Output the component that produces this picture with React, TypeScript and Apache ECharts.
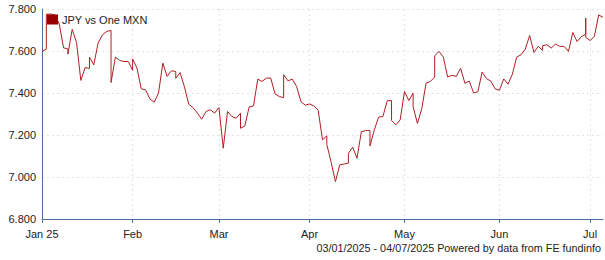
import React, { useEffect, useRef } from "react";
import * as echarts from "echarts";

// Trading-day categories (weekdays 03/01/2025 .. 04/07/2025)
const startDate = "2025-01-03";
const endDate = "2025-07-04";
const monthLabels = ["Jan 25", "Feb", "Mar", "Apr", "May", "Jun", "Jul"];
const yTicks = [6.8, 7.0, 7.2, 7.4, 7.6, 7.8];
const seriesName = "JPY vs One MXN";
const footer = "03/01/2025 - 04/07/2025 Powered by data from FE fundinfo";

// Trading-day index of each reading (a repeated index = two readings on one day)
const tradingDay = [
  0, 1, 1, 2, 3, 4, 5, 6, 6, 7, 8, 9, 10, 11, 11, 12, 13, 14, 15, 16, 16, 17, 18, 19, 20,
  21, 21, 22, 23, 24, 25, 26, 27, 28, 29, 30, 31, 31, 32, 33, 34, 35, 36, 37, 38, 39, 40,
  41, 42, 43, 44, 45, 46, 46, 47, 48, 49, 50, 51, 52, 53, 54, 55, 56, 56, 57, 58, 59, 60,
  61, 62, 63, 64, 65, 66, 66, 67, 68, 69, 70, 71, 71, 72, 73, 74, 75, 76, 76, 77, 78, 79,
  80, 81, 81, 82, 83, 84, 85, 86, 86, 87, 88, 89, 90, 91, 91, 92, 93, 94, 95, 96, 97, 98,
  99, 100, 101, 102, 103, 104, 105, 106, 107, 108, 109, 110, 111, 112, 113, 114, 115, 116,
  116, 117, 118, 119, 120, 121, 122, 123, 124, 125, 126, 126, 126, 127, 128, 129, 130,
];
const rate = [
  7.598, 7.609, 7.775, 7.776, 7.772, 7.728, 7.615, 7.61, 7.585, 7.703, 7.641, 7.46, 7.521,
  7.517, 7.571, 7.534, 7.638, 7.677, 7.693, 7.698, 7.45, 7.571, 7.555, 7.55, 7.55,
  7.508, 7.562, 7.519, 7.42, 7.415, 7.372, 7.356, 7.4, 7.542, 7.479, 7.506, 7.502, 7.47,
  7.497, 7.43, 7.347, 7.33, 7.305, 7.275, 7.312, 7.32, 7.304,
  7.331, 7.137, 7.312, 7.288, 7.28, 7.304, 7.232, 7.243, 7.333, 7.339, 7.466, 7.455, 7.471,
  7.471, 7.396, 7.383, 7.378, 7.487, 7.458, 7.466, 7.431, 7.359,
  7.342, 7.348, 7.338, 7.318, 7.177, 7.196, 7.155, 7.07, 6.978, 7.058, 7.062, 7.066, 7.113,
  7.142, 7.089, 7.216, 7.221, 7.221, 7.148, 7.224, 7.285, 7.288,
  7.363, 7.364, 7.269, 7.248, 7.272, 7.407, 7.364, 7.399, 7.335, 7.255, 7.325, 7.447,
  7.455, 7.476, 7.577, 7.598, 7.571, 7.476, 7.484, 7.479, 7.518, 7.446,
  7.457, 7.401, 7.406, 7.5, 7.468, 7.457, 7.42, 7.413, 7.467, 7.442, 7.49, 7.571, 7.582,
  7.609, 7.674, 7.593, 7.622, 7.603,
  7.625, 7.63, 7.614, 7.633, 7.622, 7.622, 7.598, 7.688, 7.645, 7.669, 7.68, 7.757, 7.665,
  7.65, 7.669, 7.772, 7.76,
];

function buildTradingDays(from: string, to: string): string[] {
  const out: string[] = [];
  const d = new Date(from + "T00:00:00Z");
  const end = new Date(to + "T00:00:00Z");
  while (d <= end) {
    const wd = d.getUTCDay();
    if (wd !== 0 && wd !== 6) out.push(d.toISOString().slice(0, 10));
    d.setUTCDate(d.getUTCDate() + 1);
  }
  return out;
}

const FONT = "'Liberation Sans', Arial, sans-serif";
const AXIS_BLUE = "#4a72a6";
const GRID_GREY = "#e4e4e4";
const TEXT = "#222";

export default function App() {
  const ref = useRef<HTMLDivElement>(null);

  useEffect(() => {
    document.body.style.margin = "0";
    if (!ref.current) return;
    const chart = echarts.init(ref.current, undefined, { renderer: "svg" });

    const days = buildTradingDays(startDate, endDate);
    const monthStart: number[] = [];
    days.forEach((d, i) => {
      if (i === 0 || d.slice(5, 7) !== days[i - 1].slice(5, 7)) monthStart.push(i);
    });
    const isMonthStart = (i: number) => monthStart.indexOf(i) >= 0;

    const points = tradingDay.map((t, k) => [t, rate[k]]);

    chart.setOption({
      animation: false,
      textStyle: { fontFamily: FONT },
      grid: { left: 42, right: 2, top: 9, bottom: 41, containLabel: false },
      legend: {
        show: true,
        left: 47,
        top: 14,
        padding: 0,
        itemWidth: 11,
        itemHeight: 10,
        icon: "rect",
        textStyle: { fontFamily: FONT, fontSize: 11, color: TEXT, padding: [0, 0, 0, -1] },
        data: [seriesName],
      },
      xAxis: [
        {
          type: "category",
          data: days,
          boundaryGap: false,
          axisLine: { show: true, lineStyle: { color: AXIS_BLUE, width: 1 } },
          axisTick: {
            show: true,
            length: 4,
            interval: (i: number) => isMonthStart(i),
            lineStyle: { color: AXIS_BLUE },
          },
          axisLabel: {
            interval: (i: number) => isMonthStart(i),
            formatter: (_v: string, i: number) => monthLabels[monthStart.indexOf(i)] ?? "",
            fontFamily: FONT,
            fontSize: 11,
            color: TEXT,
            margin: 9,
          },
          splitLine: {
            show: true,
            interval: (i: number) => isMonthStart(i),
            lineStyle: { color: GRID_GREY, type: [2, 3] },
          },
        },
        {
          type: "value",
          show: false,
          min: 0,
          max: days.length - 1,
          splitLine: { show: false },
        },
      ],
      yAxis: {
        type: "value",
        min: yTicks[0],
        max: yTicks[yTicks.length - 1],
        interval: 0.2,
        axisLine: { show: true, lineStyle: { color: AXIS_BLUE, width: 1 } },
        axisTick: { show: false },
        axisLabel: {
          formatter: (v: number) => v.toFixed(3),
          fontFamily: FONT,
          fontSize: 11,
          color: TEXT,
          margin: 6,
        },
        splitLine: { show: true, lineStyle: { color: GRID_GREY, type: [2, 3] } },
      },
      series: [
        {
          name: seriesName,
          type: "line",
          xAxisIndex: 1,
          data: points,
          symbol: "none",
          showSymbol: false,
          lineStyle: { color: "#b01e24", width: 1 },
          itemStyle: { color: "#990000" },
          z: 2,
        },
      ],
      graphic: [
        {
          type: "text",
          right: 4,
          top: 242,
          style: {
            text: footer,
            fontFamily: FONT,
            fontSize: 10.8,
            fill: TEXT,
          },
        },
      ],
    });

    return () => chart.dispose();
  }, []);

  return <div ref={ref} style={{ width: 605, height: 260 }} />;
}
